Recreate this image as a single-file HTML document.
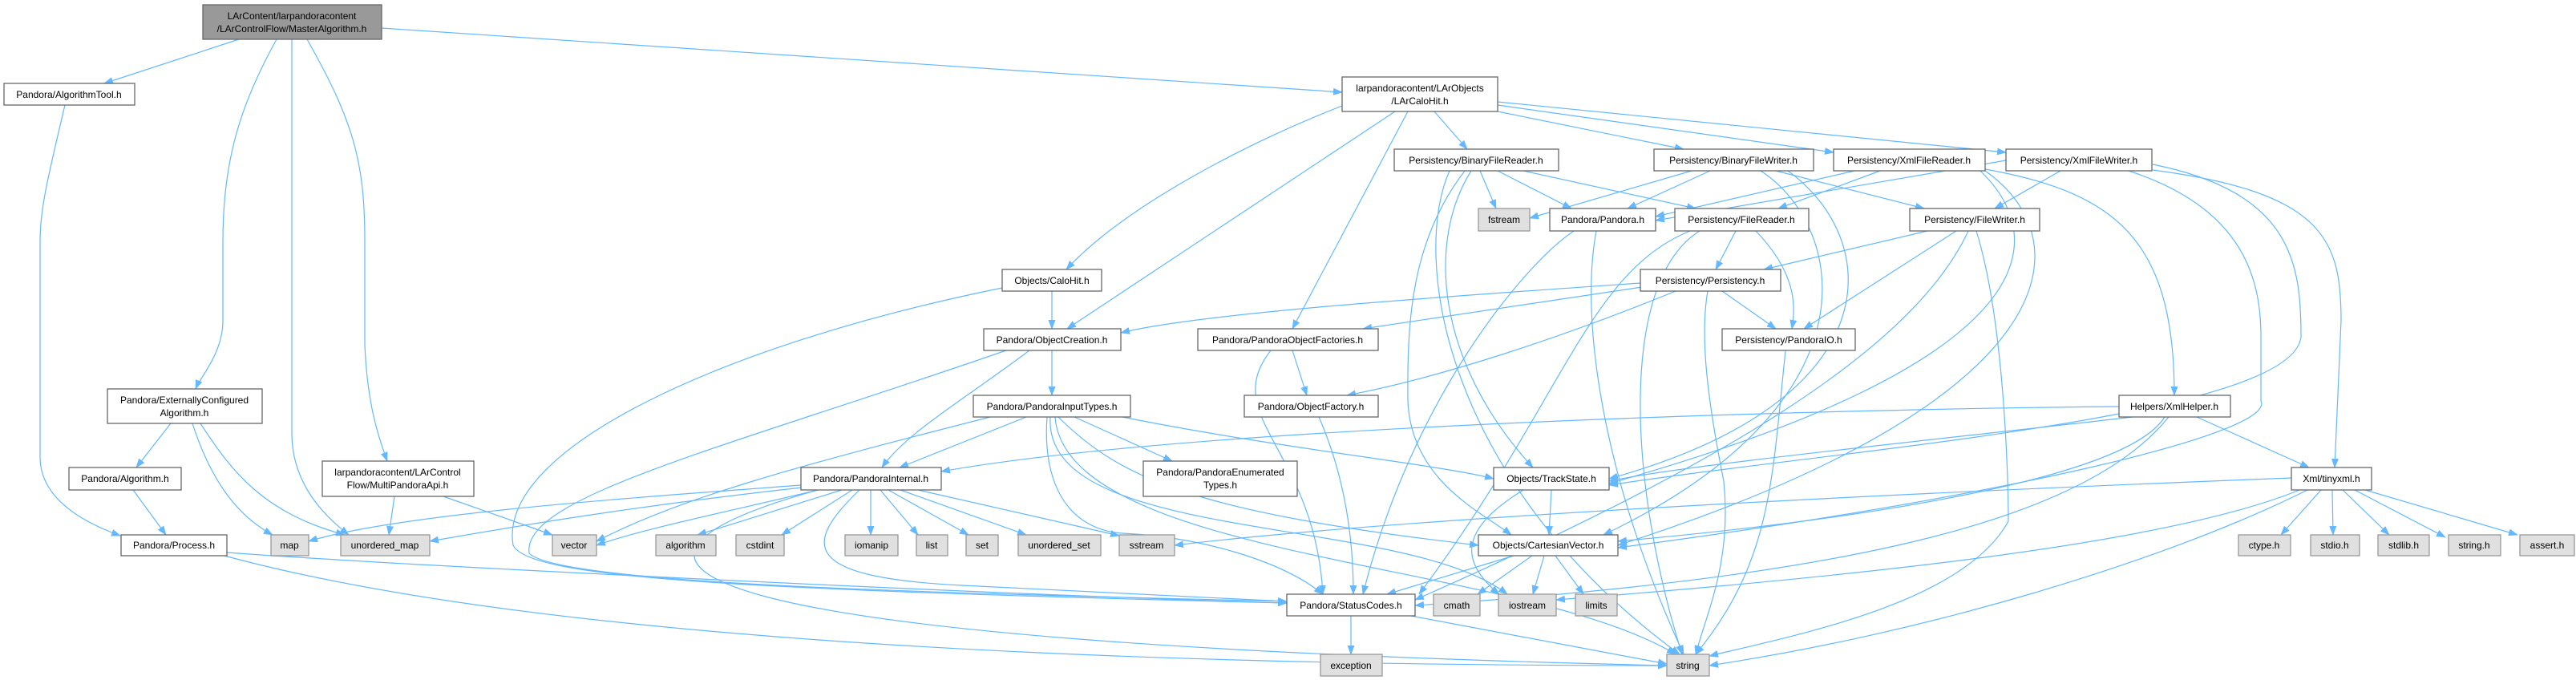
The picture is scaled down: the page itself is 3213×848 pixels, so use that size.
<!DOCTYPE html>
<html><head><meta charset="utf-8"><style>
html,body{margin:0;padding:0;background:#fff;}
svg{display:block;}
text{font-family:"Liberation Sans",Arial,sans-serif;font-size:12px;fill:#000;text-anchor:middle;}
.n{fill:#fff;stroke:#666;stroke-width:1.3;}
.x{fill:#e0e0e0;stroke:#999;stroke-width:1.3;}
.r{fill:#999;stroke:#666;stroke-width:1.3;}
.e{fill:none;stroke:#63b8ff;stroke-width:1.2;marker-end:url(#a);}
</style></head><body>
<svg width="3213" height="848" viewBox="0 0 3213 848" xmlns="http://www.w3.org/2000/svg">
<defs><marker id="a" markerUnits="userSpaceOnUse" markerWidth="12" markerHeight="9" refX="11" refY="4.5" orient="auto"><path d="M0,0 L12,4.5 L0,9 z" fill="#63b8ff"/></marker></defs>
<g>
<path class="e" d="M298,49 L130,104"/>
<path class="e" d="M476,35 L1674,115"/>
<path class="e" d="M345,49 C300,130 278,200 278,300 L278,400 C278,440 250,470 244,485"/>
<path class="e" d="M364,49 L364,540 C364,600 400,640 435,667"/>
<path class="e" d="M383,49 C440,150 455,200 455,300 L455,430 C458,500 470,540 483,575"/>
<path class="e" d="M81,131 C60,220 50,260 50,300 L50,570 C50,620 100,650 150,668"/>
<path class="e" d="M213,528 L170,583"/>
<path class="e" d="M240,528 C260,590 290,640 340,667"/>
<path class="e" d="M250,528 C290,590 330,640 430,667"/>
<path class="e" d="M166,611 L207,667"/>
<path class="e" d="M283,689 C500,705 1200,740 1605,752"/>
<path class="e" d="M280,693 C600,780 1200,830 2079,830"/>
<path class="e" d="M492,619 L485,667"/>
<path class="e" d="M553,619 L689,667"/>
<path class="e" d="M1674,132 C1550,180 1400,260 1330,336"/>
<path class="e" d="M1740,139 L1331,410"/>
<path class="e" d="M1756,139 L1612,410"/>
<path class="e" d="M1789,139 L1830,186"/>
<path class="e" d="M1868,139 L2100,186"/>
<path class="e" d="M1868,131 L2287,190"/>
<path class="e" d="M1868,127 L2502,190"/>
<path class="e" d="M1312,363 L1312,410"/>
<path class="e" d="M1250,359 C900,430 620,560 640,680 C660,720 900,735 1605,752"/>
<path class="e" d="M1312,437 L1312,493"/>
<path class="e" d="M1284,437 C1200,500 1130,540 1100,583"/>
<path class="e" d="M1255,437 C900,560 650,620 660,690 C700,730 1200,740 1605,750"/>
<path class="e" d="M1612,437 L1630,493"/>
<path class="e" d="M1585,437 C1520,520 1640,560 1650,741"/>
<path class="e" d="M1645,520 C1680,600 1688,680 1688,741"/>
<path class="e" d="M1280,520 L1122,583"/>
<path class="e" d="M1340,520 L1462,575"/>
<path class="e" d="M1400,520 C1600,560 1800,580 1863,597"/>
<path class="e" d="M1320,520 C1400,600 1500,640 1844,680"/>
<path class="e" d="M1235,520 C1000,580 850,620 744,675"/>
<path class="e" d="M1306,520 C1300,600 1330,660 1400,665 C1500,670 1600,700 1650,741"/>
<path class="e" d="M1316,520 C1330,700 1900,700 2090,816"/>
<path class="e" d="M1310,520 C1300,680 1750,640 1880,741"/>
<path class="e" d="M999,605 C800,620 500,640 385,675"/>
<path class="e" d="M1000,608 C800,630 650,655 536,675"/>
<path class="e" d="M1020,611 C900,640 800,660 744,680"/>
<path class="e" d="M1050,611 L870,667"/>
<path class="e" d="M1063,611 L975,667"/>
<path class="e" d="M1086,611 L1086,667"/>
<path class="e" d="M1098,611 L1145,667"/>
<path class="e" d="M1108,611 L1208,667"/>
<path class="e" d="M1123,611 L1280,667"/>
<path class="e" d="M1145,611 L1396,668"/>
<path class="e" d="M1072,611 C1000,680 1000,720 1200,730 L1605,750"/>
<path class="e" d="M1020,611 C700,700 800,800 2079,830"/>
<path class="e" d="M1846,213 L1866,260"/>
<path class="e" d="M1868,213 L1960,260"/>
<path class="e" d="M1900,213 L2115,260"/>
<path class="e" d="M1835,213 C1780,300 1790,450 1912,583"/>
<path class="e" d="M1827,213 C1760,300 1755,400 1756,500 C1760,600 1850,640 1885,667"/>
<path class="e" d="M1808,213 C1760,320 1800,600 2095,816"/>
<path class="e" d="M2110,213 L1908,272"/>
<path class="e" d="M2133,213 L2030,260"/>
<path class="e" d="M2215,213 L2400,260"/>
<path class="e" d="M2196,213 C2300,280 2350,500 2000,667"/>
<path class="e" d="M2230,213 C2350,300 2360,500 2007,597"/>
<path class="e" d="M2313,213 L2065,270"/>
<path class="e" d="M2345,213 L2218,260"/>
<path class="e" d="M2476,211 C2640,240 2712,300 2712,493"/>
<path class="e" d="M2470,213 C2560,300 2550,450 2007,603"/>
<path class="e" d="M2476,213 C2600,300 2580,500 2018,680"/>
<path class="e" d="M2502,200 L2065,275"/>
<path class="e" d="M2570,213 L2488,260"/>
<path class="e" d="M2685,212 C2900,240 2920,300 2920,400 L2912,583"/>
<path class="e" d="M2685,205 C2860,240 2870,330 2870,420 C2860,520 2300,560 2007,605"/>
<path class="e" d="M2655,213 C2800,260 2820,350 2820,420 L2820,500 C2840,540 2500,620 2018,683"/>
<path class="e" d="M1963,288 C1900,330 1760,500 1700,741"/>
<path class="e" d="M1991,288 C1970,400 2000,600 2100,816"/>
<path class="e" d="M2165,288 L2140,336"/>
<path class="e" d="M2190,288 C2240,340 2240,380 2235,410"/>
<path class="e" d="M2108,288 C1980,340 1950,500 1770,741"/>
<path class="e" d="M2120,288 C2020,350 2030,600 2098,816"/>
<path class="e" d="M2404,288 L2200,336"/>
<path class="e" d="M2440,288 L2250,410"/>
<path class="e" d="M2455,288 C2380,450 2100,600 1765,748"/>
<path class="e" d="M2465,288 C2500,400 2505,600 2505,650 C2450,750 2250,790 2132,818"/>
<path class="e" d="M2046,353 C1800,370 1500,390 1398,415"/>
<path class="e" d="M2048,358 L1700,410"/>
<path class="e" d="M2090,363 C1950,420 1800,470 1680,493"/>
<path class="e" d="M2148,363 L2215,410"/>
<path class="e" d="M2130,363 C2120,420 2130,500 2150,600 C2160,700 2130,760 2115,816"/>
<path class="e" d="M2227,437 C2210,600 2210,700 2115,816"/>
<path class="e" d="M2643,507 C2300,510 1500,530 1174,588"/>
<path class="e" d="M2660,520 C2400,550 2100,580 2007,600"/>
<path class="e" d="M2700,520 C2650,600 2300,650 2018,675"/>
<path class="e" d="M2740,520 L2880,583"/>
<path class="e" d="M2705,520 C2600,650 2300,720 1765,755"/>
<path class="e" d="M1935,611 L1932,667"/>
<path class="e" d="M1900,611 C1820,660 1820,700 1870,741"/>
<path class="e" d="M1888,693 L1730,741"/>
<path class="e" d="M1911,693 L1843,741"/>
<path class="e" d="M1926,693 L1912,741"/>
<path class="e" d="M1940,693 L1975,741"/>
<path class="e" d="M2895,611 L2845,667"/>
<path class="e" d="M2909,611 L2910,667"/>
<path class="e" d="M2922,611 L2980,667"/>
<path class="e" d="M2937,611 L3050,670"/>
<path class="e" d="M2950,611 L3140,667"/>
<path class="e" d="M2858,596 C2500,610 1800,640 1465,680"/>
<path class="e" d="M2878,611 C2700,700 2400,790 2132,830"/>
<path class="e" d="M2868,611 C2700,680 2300,720 1941,748"/>
<path class="e" d="M1685,768 L1685,816"/>
<path class="e" d="M1760,768 L2079,828"/>
</g>
<g>
<rect class="r" x="253" y="6" width="223" height="43"/><text x="364" y="24">LArContent/larpandoracontent</text><text x="364" y="40">/LArControlFlow/MasterAlgorithm.h</text>
<rect class="n" x="5" y="104" width="163" height="27"/><text x="86" y="122">Pandora/AlgorithmTool.h</text>
<rect class="n" x="1674" y="96" width="194" height="43"/><text x="1771" y="114">larpandoracontent/LArObjects</text><text x="1771" y="130">/LArCaloHit.h</text>
<rect class="n" x="134" y="485" width="193" height="43"/><text x="230" y="503">Pandora/ExternallyConfigured</text><text x="230" y="519">Algorithm.h</text>
<rect class="n" x="86" y="583" width="140" height="28"/><text x="156" y="601">Pandora/Algorithm.h</text>
<rect class="n" x="151" y="667" width="132" height="26"/><text x="217" y="684">Pandora/Process.h</text>
<rect class="x" x="338" y="667" width="47" height="26"/><text x="361" y="684">map</text>
<rect class="x" x="425" y="667" width="111" height="26"/><text x="480" y="684">unordered_map</text>
<rect class="n" x="402" y="575" width="189" height="44"/><text x="496" y="593">larpandoracontent/LArControl</text><text x="496" y="609">Flow/MultiPandoraApi.h</text>
<rect class="x" x="689" y="667" width="55" height="26"/><text x="716" y="684">vector</text>
<rect class="n" x="1250" y="336" width="124" height="27"/><text x="1312" y="354">Objects/CaloHit.h</text>
<rect class="n" x="1227" y="410" width="171" height="27"/><text x="1312" y="428">Pandora/ObjectCreation.h</text>
<rect class="n" x="1494" y="410" width="225" height="27"/><text x="1606" y="428">Pandora/PandoraObjectFactories.h</text>
<rect class="n" x="1214" y="493" width="196" height="27"/><text x="1312" y="511">Pandora/PandoraInputTypes.h</text>
<rect class="n" x="999" y="583" width="175" height="28"/><text x="1086" y="601">Pandora/PandoraInternal.h</text>
<rect class="n" x="1426" y="575" width="192" height="44"/><text x="1522" y="593">Pandora/PandoraEnumerated</text><text x="1522" y="609">Types.h</text>
<rect class="n" x="1552" y="493" width="167" height="27"/><text x="1635" y="511">Pandora/ObjectFactory.h</text>
<rect class="n" x="1605" y="741" width="160" height="27"/><text x="1685" y="759">Pandora/StatusCodes.h</text>
<rect class="n" x="1739" y="186" width="205" height="27"/><text x="1841" y="204">Persistency/BinaryFileReader.h</text>
<rect class="n" x="2063" y="186" width="199" height="27"/><text x="2162" y="204">Persistency/BinaryFileWriter.h</text>
<rect class="n" x="2287" y="186" width="189" height="27"/><text x="2381" y="204">Persistency/XmlFileReader.h</text>
<rect class="n" x="2502" y="186" width="182" height="27"/><text x="2593" y="204">Persistency/XmlFileWriter.h</text>
<rect class="x" x="1844" y="260" width="64" height="28"/><text x="1876" y="278">fstream</text>
<rect class="n" x="1933" y="260" width="132" height="28"/><text x="1999" y="278">Pandora/Pandora.h</text>
<rect class="n" x="2089" y="260" width="167" height="28"/><text x="2172" y="278">Persistency/FileReader.h</text>
<rect class="n" x="2382" y="260" width="162" height="28"/><text x="2463" y="278">Persistency/FileWriter.h</text>
<rect class="n" x="2046" y="336" width="175" height="27"/><text x="2133" y="354">Persistency/Persistency.h</text>
<rect class="n" x="2148" y="410" width="166" height="27"/><text x="2231" y="428">Persistency/PandoraIO.h</text>
<rect class="n" x="1863" y="583" width="144" height="28"/><text x="1935" y="601">Objects/TrackState.h</text>
<rect class="n" x="1844" y="667" width="174" height="26"/><text x="1931" y="684">Objects/CartesianVector.h</text>
<rect class="x" x="1788" y="741" width="58" height="27"/><text x="1817" y="759">cmath</text>
<rect class="x" x="1869" y="741" width="72" height="27"/><text x="1905" y="759">iostream</text>
<rect class="x" x="1965" y="741" width="52" height="27"/><text x="1991" y="759">limits</text>
<rect class="x" x="1647" y="816" width="77" height="27"/><text x="1685" y="834">exception</text>
<rect class="x" x="2079" y="816" width="53" height="27"/><text x="2105" y="834">string</text>
<rect class="n" x="2643" y="493" width="139" height="27"/><text x="2712" y="511">Helpers/XmlHelper.h</text>
<rect class="n" x="2858" y="583" width="100" height="28"/><text x="2908" y="601">Xml/tinyxml.h</text>
<rect class="x" x="2792" y="667" width="65" height="26"/><text x="2824" y="684">ctype.h</text>
<rect class="x" x="2882" y="667" width="61" height="26"/><text x="2912" y="684">stdio.h</text>
<rect class="x" x="2966" y="667" width="64" height="26"/><text x="2998" y="684">stdlib.h</text>
<rect class="x" x="3054" y="667" width="65" height="26"/><text x="3086" y="684">string.h</text>
<rect class="x" x="3143" y="667" width="68" height="26"/><text x="3177" y="684">assert.h</text>
<rect class="x" x="818" y="667" width="75" height="26"/><text x="855" y="684">algorithm</text>
<rect class="x" x="918" y="667" width="60" height="26"/><text x="948" y="684">cstdint</text>
<rect class="x" x="1054" y="667" width="66" height="26"/><text x="1087" y="684">iomanip</text>
<rect class="x" x="1143" y="667" width="39" height="26"/><text x="1162" y="684">list</text>
<rect class="x" x="1205" y="667" width="40" height="26"/><text x="1225" y="684">set</text>
<rect class="x" x="1270" y="667" width="103" height="26"/><text x="1321" y="684">unordered_set</text>
<rect class="x" x="1396" y="667" width="69" height="26"/><text x="1430" y="684">sstream</text>
</g>
</svg>
</body></html>
